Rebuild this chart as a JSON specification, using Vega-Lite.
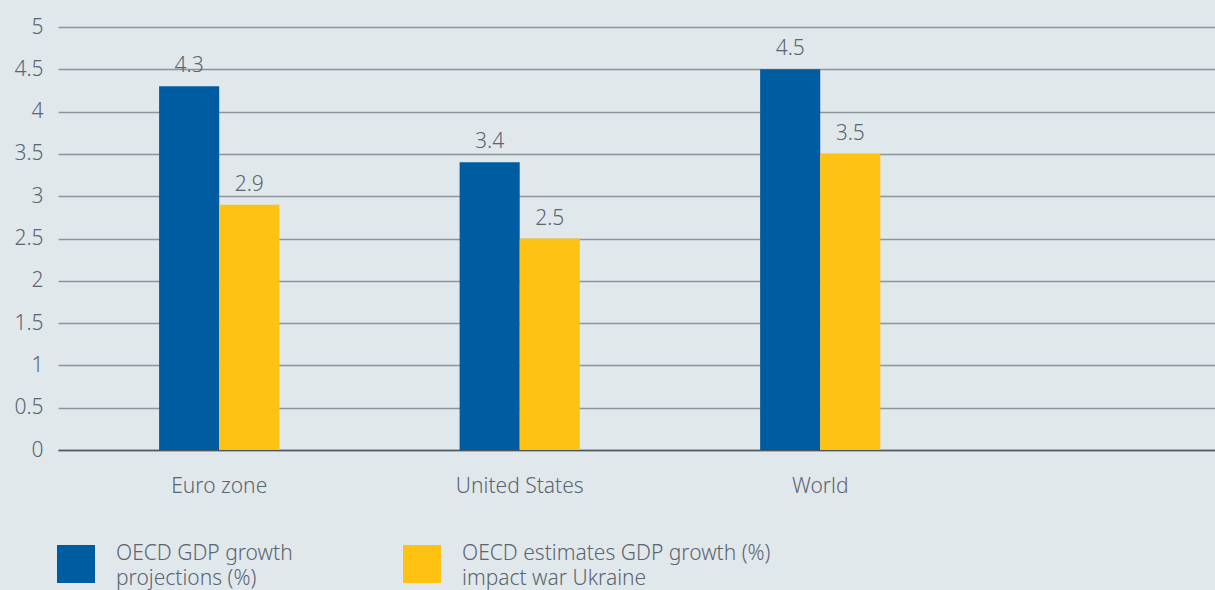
{
  "$schema": "https://vega.github.io/schema/vega-lite/v6.json",
  "width": 1157,
  "height": 423,
  "autosize": {"type": "none"},
  "padding": {"left": 58, "top": 27, "right": 0, "bottom": 140},
  "background": "#e1e8ec",
  "config": {
    "view": {"stroke": null},
    "font": "Noto Sans",
    "style": {"guide-label": {"lineHeight": 25}},
    "axis": {"labelFont": "Noto Sans", "labelFontWeight": 300, "labelColor": "#5a6570", "labelFontSize": 21},
    "legend": {"labelFont": "Noto Sans", "labelFontWeight": 300}
  },
  "data": {
    "values": [
      {"region": "Euro zone", "series": "OECD GDP growth|projections (%)", "value": 4.3},
      {"region": "Euro zone", "series": "OECD estimates GDP growth (%)|impact war Ukraine", "value": 2.9},
      {"region": "United States", "series": "OECD GDP growth|projections (%)", "value": 3.4},
      {"region": "United States", "series": "OECD estimates GDP growth (%)|impact war Ukraine", "value": 2.5},
      {"region": "World", "series": "OECD GDP growth|projections (%)", "value": 4.5},
      {"region": "World", "series": "OECD estimates GDP growth (%)|impact war Ukraine", "value": 3.5}
    ]
  },
  "encoding": {
    "x": {
      "field": "region",
      "type": "nominal",
      "sort": null,
      "scale": {"paddingInner": 0.6, "paddingOuter": 0.725, "align": 0.232},
      "axis": {
        "title": null,
        "labelAngle": 0,
        "ticks": false,
        "labelPadding": 25,
        "domain": true,
        "domainColor": "#4a5560",
        "domainWidth": 1.5
      }
    },
    "xOffset": {
      "field": "series",
      "type": "nominal",
      "sort": null,
      "scale": {"paddingInner": 0, "paddingOuter": 0}
    },
    "y": {
      "field": "value",
      "type": "quantitative",
      "scale": {"domain": [0, 5], "nice": false},
      "axis": {
        "title": null,
        "values": [0, 0.5, 1, 1.5, 2, 2.5, 3, 3.5, 4, 4.5, 5],
        "format": "~g",
        "ticks": false,
        "domain": false,
        "labelPadding": 15,
        "grid": true,
        "gridColor": "#8c959b",
        "gridWidth": 1.5
      }
    }
  },
  "layer": [
    {
      "mark": {"type": "bar"},
      "encoding": {
        "color": {
          "field": "series",
          "type": "nominal",
          "sort": null,
          "scale": {"range": ["#005ca1", "#fec312"]},
          "legend": {
            "title": null,
            "orient": "none",
            "legendX": -1,
            "legendY": 518,
            "direction": "horizontal",
            "columns": 2,
            "symbolType": "square",
            "symbolSize": 1444,
            "symbolStrokeWidth": 0,
            "symbolOpacity": 1,
            "labelExpr": "split(datum.label, '|')",
            "labelFontSize": 21,
            "labelColor": "#5a6570",
            "labelLimit": 400,
            "labelOffset": 21,
            "labelBaseline": "bottom",
            "columnPadding": 110
          }
        }
      }
    },
    {
      "mark": {"type": "text", "baseline": "alphabetic", "dy": -14, "fontSize": 21, "fontWeight": 300, "color": "#5a6570"},
      "encoding": {
        "text": {"field": "value", "type": "quantitative", "format": ".1f"}
      }
    }
  ]
}
